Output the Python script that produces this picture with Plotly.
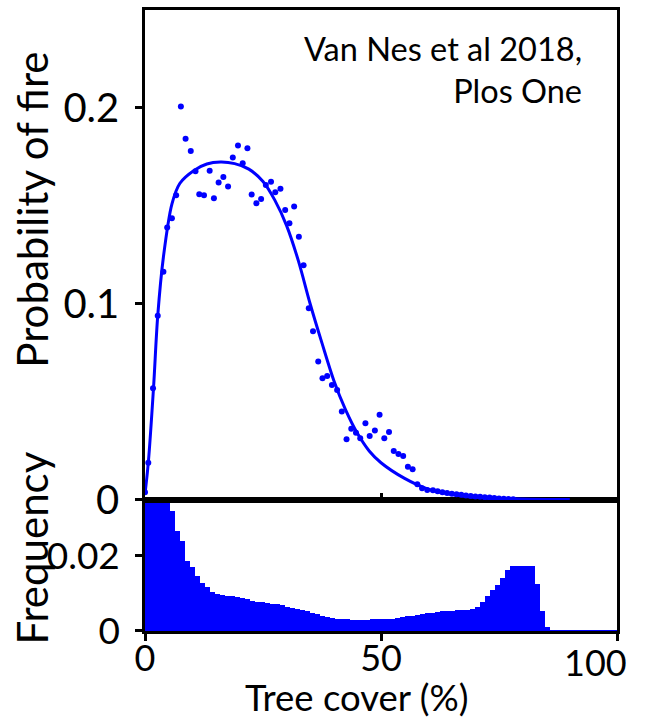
import plotly.graph_objects as go

# ---------------- data ----------------
# scatter: probability of fire vs tree cover (%)
pt_x = [0.0, 0.7, 1.7, 2.7, 3.9, 4.7, 5.7, 6.6, 7.6, 8.6, 9.7, 10.7, 11.5, 12.5, 13.7, 14.6,
        15.6, 16.6, 17.6, 18.6, 19.7, 20.7, 21.7, 22.6, 23.6, 24.6, 25.6, 26.7, 27.6, 28.7,
        29.7, 30.6, 31.6, 32.6, 33.6, 34.7, 35.6, 36.7, 37.6, 38.6, 39.6, 40.7, 41.7, 42.7,
        43.7, 44.7, 45.6, 46.7, 47.6, 48.7, 49.7, 50.7, 51.7, 52.7, 53.7, 54.7, 55.7, 56.7,
        57.7, 58.7, 59.8, 61.0, 62.0, 63.0, 64.0, 65.0, 66.0, 67.0, 68.0, 69.0, 70.0, 71.0,
        72.0, 73.0, 74.0, 75.0, 76.0, 77.0, 78.0]
pt_y = [0.004, 0.019, 0.057, 0.094, 0.1165, 0.139, 0.1437, 0.1555, 0.2007, 0.1843, 0.178,
        0.1677, 0.156, 0.1555, 0.168, 0.154, 0.162, 0.1648, 0.160, 0.1747, 0.1808, 0.1718,
        0.1794, 0.1558, 0.1514, 0.1536, 0.1607, 0.1624, 0.157, 0.1588, 0.148, 0.1412, 0.1498,
        0.1343, 0.1197, 0.0978, 0.0861, 0.0706, 0.0621, 0.0633, 0.0587, 0.0561, 0.0452, 0.031,
        0.0364, 0.0343, 0.0315, 0.0391, 0.0327, 0.0354, 0.0435, 0.0315, 0.0347, 0.025, 0.0235,
        0.0224, 0.017, 0.0157, 0.008, 0.006, 0.0051, 0.005, 0.0045, 0.004, 0.0036, 0.0032,
        0.0029, 0.0026, 0.0023, 0.002, 0.0018, 0.0016, 0.0014, 0.0012, 0.001, 0.0008, 0.0006,
        0.0005, 0.0004]

# fitted curve
fit_x = [0.0, 0.7, 1.8, 2.7, 3.9, 5.7, 7.4, 10.3, 13.1, 16.0, 19.0, 22.0, 25.0, 27.5, 30.0,
         32.5, 35.0, 37.5, 40.0, 42.5, 45.0, 47.5, 50.0, 55.0, 60.0, 65.0, 70.0, 80.0, 90.0]
fit_y = [0.003, 0.019, 0.057, 0.094, 0.124, 0.151, 0.1616, 0.168, 0.1714, 0.1724, 0.1716,
         0.1688, 0.1625, 0.153, 0.140, 0.122, 0.100, 0.080, 0.061, 0.046, 0.034, 0.025,
         0.019, 0.011, 0.0055, 0.0028, 0.0014, 0.0005, 0.0002]

# histogram of tree cover (frequency per bin)
hist_freq = [0.05, 0.06, 0.058, 0.05, 0.042, 0.032, 0.0267, 0.024, 0.0187, 0.0169, 0.0147,
             0.0127, 0.0116, 0.0104, 0.0098, 0.0095, 0.0094, 0.0093, 0.0091, 0.0089, 0.0085,
             0.0079, 0.0077, 0.0076, 0.0074, 0.0073, 0.0071, 0.0069, 0.0064, 0.0062, 0.0059,
             0.0057, 0.0053, 0.0049, 0.0045, 0.0041, 0.0038, 0.0035, 0.0033, 0.0031, 0.0031,
             0.0030, 0.0030, 0.0030, 0.0030, 0.0031, 0.0031, 0.0031, 0.0032, 0.0033, 0.0035,
             0.0037, 0.0039, 0.0041, 0.0043, 0.0045, 0.0047, 0.0049, 0.0051, 0.0052, 0.0053,
             0.0054, 0.0055, 0.0055, 0.0056, 0.0058, 0.0064, 0.0076, 0.0092, 0.0108, 0.0121,
             0.0141, 0.0161, 0.0172, 0.0172, 0.0172, 0.0172, 0.0172, 0.0124, 0.0053, 0.0012,
             0.0002, 0.0002, 0.0002, 0.0002, 0.0002, 0.0002, 0.0002, 0.0002, 0.0002, 0.0002,
             0.0002, 0.0002, 0.0002, 0.0002]
BIN_W = 1.06
hist_start = [i * BIN_W for i in range(len(hist_freq))]

x_ticks = [0, 50, 100]
x_tick_text = ["0", "50", ""]       # "100" is placed as a label left of its tick, as in the original
x_last_label = "100"
y_top_ticks = [0, 0.1, 0.2]
y_top_text = ["0", "0.1", "0.2"]
y_bot_ticks = [0, 0.02]
y_bot_text = ["0", "0.02"]

# ---------------- figure ----------------
BLUE = "#0000ff"
FONT = "Lato"
fig = go.Figure()

fig.add_trace(go.Scatter(x=fit_x, y=fit_y, mode="lines",
                         line=dict(color=BLUE, width=3, shape="spline", smoothing=0.9),
                         xaxis="x2", yaxis="y", cliponaxis=False, hoverinfo="skip"))
fig.add_trace(go.Scatter(x=pt_x, y=pt_y, mode="markers", marker=dict(color=BLUE, size=6),
                         xaxis="x2", yaxis="y", cliponaxis=False))
fig.add_trace(go.Bar(x=hist_start, y=hist_freq, width=BIN_W, offset=0,
                     marker=dict(color=BLUE, line=dict(width=0)), xaxis="x", yaxis="y2"))


def axis_style(size):
    return dict(showline=True, linecolor="black", linewidth=2.5, mirror=True, showgrid=False,
                zeroline=False, tickcolor="black", tickwidth=2.5, ticklen=7, automargin=False,
                ticklabeloverflow="allow",
                tickfont=dict(family=FONT, size=size, color="black"))


split = 0.211
fig.update_layout(
    width=654, height=720,
    margin=dict(l=145, r=37, t=10, b=89, autoexpand=False),
    plot_bgcolor="white", paper_bgcolor="white",
    showlegend=False, bargap=0,
    xaxis=dict(domain=[0, 1], range=[0, 100], anchor="y2", ticks="outside",
               tickvals=x_ticks, ticktext=x_tick_text, ticklabelstandoff=-13, **axis_style(36)),
    xaxis2=dict(domain=[0, 1], range=[0, 100], anchor="y", ticks="inside",
                tickvals=x_ticks, showticklabels=False, matches="x", **axis_style(36)),
    yaxis=dict(domain=[split, 1], range=[0, 0.25], anchor="x2", ticks="outside",
               tickvals=y_top_ticks, ticktext=y_top_text, ticklabelstandoff=8, **axis_style(40)),
    yaxis2=dict(domain=[0, split], range=[0, 0.0348], anchor="x", ticks="outside",
                tickvals=y_bot_ticks, ticktext=y_bot_text, ticklabelstandoff=8, **axis_style(37)),
    annotations=[
        dict(text=x_last_label, xref="paper", yref="paper", x=0.9555, y=-0.05,
             xanchor="center", yanchor="middle", showarrow=False,
             font=dict(family=FONT, size=36, color="black")),
        dict(text="Van Nes et al 2018,<br>Plos One", xref="paper", yref="paper", x=0.93, y=0.972,
             xanchor="right", yanchor="top", align="right", showarrow=False,
             font=dict(family=FONT, size=32.5, color="black")),
        dict(text="Probability of fire", xref="paper", yref="paper", x=-0.24, y=0.678,
             xanchor="center", yanchor="middle", textangle=-90, showarrow=False,
             font=dict(family=FONT, size=42, color="black")),
        dict(text="Frequency", xref="paper", yref="paper", x=-0.24, y=0.134,
             xanchor="center", yanchor="middle", textangle=-90, showarrow=False,
             font=dict(family=FONT, size=42, color="black")),
        dict(text="Tree cover (%)", xref="paper", yref="paper", x=0.449, y=-0.1055,
             xanchor="center", yanchor="middle", showarrow=False,
             font=dict(family=FONT, size=36.5, color="black")),
    ],
)

fig.write_html("out.html")
